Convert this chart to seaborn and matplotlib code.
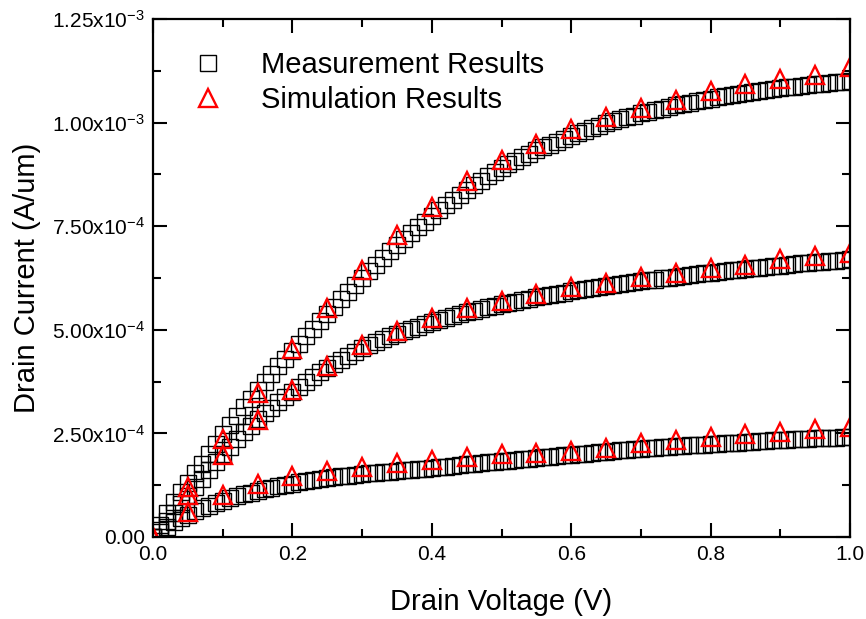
import numpy as np
import pandas as pd
import matplotlib
matplotlib.use("Agg")
import matplotlib.pyplot as plt
import seaborn as sns
from matplotlib.ticker import MultipleLocator, FixedLocator, FixedFormatter

# ---------------- data (currents in units of 1e-4 A/um) ----------------
meas_vd = [round(0.01 * i, 2) for i in range(101)]
meas_high = [0.00, 0.30, 0.58, 0.84, 1.08, 1.31, 1.54, 1.77, 2.00, 2.25,
             2.48, 2.70, 2.92, 3.13, 3.34, 3.55, 3.74, 3.93, 4.12, 4.30,
             4.48, 4.66, 4.84, 5.03, 5.21, 5.39, 5.56, 5.74, 5.91, 6.08,
             6.25, 6.41, 6.57, 6.73, 6.89, 7.04, 7.19, 7.33, 7.47, 7.61,
             7.75, 7.88, 8.01, 8.14, 8.26, 8.38, 8.49, 8.59, 8.70, 8.80,
             8.90, 8.99, 9.08, 9.17, 9.25, 9.33, 9.40, 9.47, 9.54, 9.61,
             9.68, 9.74, 9.80, 9.86, 9.92, 9.98, 10.03, 10.08, 10.13, 10.17,
             10.22, 10.26, 10.30, 10.34, 10.38, 10.42, 10.45, 10.48, 10.52, 10.55,
             10.58, 10.61, 10.64, 10.67, 10.69, 10.72, 10.74, 10.76, 10.79, 10.81,
             10.83, 10.85, 10.87, 10.89, 10.91, 10.92, 10.94, 10.96, 10.97, 10.99,
             11.00]
meas_mid = [0.00, 0.18, 0.38, 0.58, 0.79, 1.00, 1.21, 1.41, 1.61, 1.81,
            2.00, 2.18, 2.36, 2.53, 2.69, 2.85, 2.99, 3.12, 3.25, 3.38,
            3.50, 3.62, 3.74, 3.86, 3.97, 4.08, 4.18, 4.28, 4.37, 4.46,
            4.55, 4.63, 4.70, 4.77, 4.84, 4.90, 4.96, 5.02, 5.07, 5.13,
            5.18, 5.23, 5.28, 5.33, 5.38, 5.42, 5.46, 5.50, 5.54, 5.58,
            5.62, 5.65, 5.68, 5.72, 5.75, 5.78, 5.81, 5.84, 5.87, 5.90,
            5.93, 5.95, 5.98, 6.00, 6.03, 6.05, 6.07, 6.10, 6.12, 6.15,
            6.17, 6.19, 6.21, 6.24, 6.26, 6.28, 6.30, 6.32, 6.34, 6.36,
            6.38, 6.40, 6.42, 6.44, 6.45, 6.47, 6.49, 6.50, 6.52, 6.54,
            6.55, 6.57, 6.58, 6.60, 6.61, 6.63, 6.64, 6.66, 6.67, 6.69,
            6.70]
meas_low = [0.00, 0.12, 0.24, 0.35, 0.45, 0.54, 0.62, 0.69, 0.76, 0.82,
            0.88, 0.93, 0.98, 1.03, 1.07, 1.11, 1.15, 1.19, 1.22, 1.26,
            1.29, 1.32, 1.35, 1.37, 1.40, 1.42, 1.44, 1.46, 1.48, 1.50,
            1.52, 1.54, 1.55, 1.57, 1.58, 1.60, 1.61, 1.62, 1.64, 1.65,
            1.66, 1.68, 1.70, 1.71, 1.73, 1.75, 1.76, 1.78, 1.80, 1.81,
            1.83, 1.84, 1.86, 1.88, 1.89, 1.91, 1.92, 1.94, 1.95, 1.97,
            1.98, 2.00, 2.01, 2.03, 2.04, 2.06, 2.07, 2.09, 2.10, 2.12,
            2.13, 2.14, 2.15, 2.17, 2.18, 2.19, 2.20, 2.21, 2.22, 2.23,
            2.24, 2.25, 2.26, 2.27, 2.28, 2.29, 2.30, 2.31, 2.32, 2.33,
            2.34, 2.35, 2.36, 2.37, 2.37, 2.38, 2.39, 2.40, 2.40, 2.41,
            2.42]

sim_vd = [0.00, 0.05, 0.10, 0.15, 0.20, 0.25, 0.30, 0.35, 0.40, 0.45, 0.50,
          0.55, 0.60, 0.65, 0.70, 0.75, 0.80, 0.85, 0.90, 0.95, 1.00]
sim_high = [0.00, 1.20, 2.36, 3.48, 4.53, 5.52, 6.45, 7.28, 7.97, 8.58, 9.10,
            9.48, 9.85, 10.13, 10.36, 10.55, 10.76, 10.92, 11.05, 11.14, 11.33]
sim_mid = [0.00, 1.01, 1.98, 2.82, 3.55, 4.12, 4.63, 4.98, 5.28, 5.52, 5.70,
           5.86, 6.03, 6.14, 6.27, 6.37, 6.49, 6.56, 6.71, 6.78, 6.86]
sim_low = [0.00, 0.61, 1.01, 1.28, 1.46, 1.60, 1.68, 1.79, 1.86, 1.94, 2.00,
           2.02, 2.08, 2.15, 2.28, 2.34, 2.41, 2.48, 2.53, 2.60, 2.65]

y_ticks = [0.0, 2.5e-4, 5.0e-4, 7.5e-4, 1.0e-3, 1.25e-3]
y_tick_labels = ["0.00", "2.50x10$^{-4}$", "5.00x10$^{-4}$", "7.50x10$^{-4}$",
                 "1.00x10$^{-3}$", "1.25x10$^{-3}$"]
x_ticks = [0.0, 0.2, 0.4, 0.6, 0.8, 1.0]
x_tick_labels = ["0.0", "0.2", "0.4", "0.6", "0.8", "1.0"]

# ---------------- style ----------------
sns.set_style("ticks")
plt.rcParams["font.family"] = ["Liberation Sans", "DejaVu Sans"]
plt.rcParams["mathtext.fontset"] = "custom"
plt.rcParams["mathtext.rm"] = "Liberation Sans"
plt.rcParams["mathtext.it"] = "Liberation Sans"
plt.rcParams["mathtext.bf"] = "Liberation Sans"
plt.rcParams["text.color"] = "black"
plt.rcParams["axes.labelcolor"] = "black"

fig = plt.figure(figsize=(8.66, 6.19), dpi=100)
ax = fig.add_axes([153 / 866, 1 - 537 / 619, 697 / 866, 518 / 619])

meas_df = pd.DataFrame({"vd": meas_vd * 3,
                        "id": np.array(meas_high + meas_mid + meas_low) * 1e-4,
                        "curve": ["high"] * 101 + ["mid"] * 101 + ["low"] * 101})
sim_df = pd.DataFrame({"vd": sim_vd * 3,
                       "id": np.array(sim_high + sim_mid + sim_low) * 1e-4,
                       "curve": ["high"] * 21 + ["mid"] * 21 + ["low"] * 21})

sq_kw = dict(marker="s", linestyle="", markersize=11.0, markerfacecolor="none",
             markeredgecolor="black", markeredgewidth=1.0, color="black",
             estimator=None, sort=False, legend=False)
tri_kw = dict(marker="^", linestyle="", markersize=12.5, markerfacecolor="none",
              markeredgecolor="#ff0000", markeredgewidth=1.7, color="#ff0000",
              estimator=None, sort=False, legend=False)

for c in ["high", "mid", "low"]:
    d = meas_df[meas_df.curve == c]
    sns.lineplot(data=d, x="vd", y="id", ax=ax, **sq_kw)
sq_handle = ax.lines[-1]
for c in ["high", "mid", "low"]:
    d = sim_df[sim_df.curve == c]
    sns.lineplot(data=d, x="vd", y="id", ax=ax, **tri_kw)
tri_handle = ax.lines[-1]

ax.set_xlim(0, 1.0)
ax.set_ylim(0, 1.25e-3)
ax.xaxis.set_major_locator(FixedLocator(x_ticks))
ax.xaxis.set_major_formatter(FixedFormatter(x_tick_labels))
ax.xaxis.set_minor_locator(MultipleLocator(0.1))
ax.yaxis.set_major_locator(FixedLocator(y_ticks))
ax.yaxis.set_major_formatter(FixedFormatter(y_tick_labels))
ax.yaxis.set_minor_locator(MultipleLocator(1.25e-4))

ax.tick_params(which="both", direction="in", top=True, right=True,
               width=1.5, color="black")
ax.tick_params(which="major", length=10, labelsize=15, pad=6,
               labelcolor="black")
ax.tick_params(which="minor", length=6)
for sp in ax.spines.values():
    sp.set_linewidth(1.6)
    sp.set_color("black")

ax.set_xlabel("Drain Voltage (V)", fontsize=21, labelpad=17, color="black")
ax.set_ylabel("Drain Current (A/um)", fontsize=21, labelpad=8, color="black")

leg = ax.legend([sq_handle, tri_handle], ["Measurement Results", "Simulation Results"],
                loc="upper left", bbox_to_anchor=(0.021, 0.988), frameon=False,
                fontsize=21, markerscale=1.0, handlelength=1.0,
                handletextpad=1.3, labelspacing=0.24, borderpad=0.4)
for t in leg.get_texts():
    t.set_color("black")

fig.savefig("out.png", dpi=100)
